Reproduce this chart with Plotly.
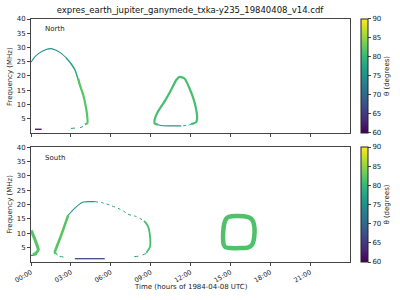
import plotly.graph_objects as go
from plotly.colors import sample_colorscale

# ---------------- data (hours of day, frequency MHz, theta degrees) ----------------
TITLE = "expres_earth_jupiter_ganymede_txka-y235_19840408_v14.cdf"
tick_hours = [0, 3, 6, 9, 12, 15, 18, 21]
tick_labels = ["00:00", "03:00", "06:00", "09:00", "12:00", "15:00", "18:00", "21:00"]
freq_ticks = [5, 10, 15, 20, 25, 30, 35, 40]
theta_ticks = [60, 65, 70, 75, 80, 85, 90]

# North hemisphere
n_arc_top_t = [0.0, 0.3, 0.7, 1.1, 1.45, 1.8, 2.2, 2.6]
n_arc_top_f = [24.8, 26.8, 28.3, 29.2, 29.6, 29.2, 28.2, 26.6]
n_arc_top_theta = 75
n_arc_mid_t = [2.6, 3.0, 3.3, 3.68]
n_arc_mid_f = [26.6, 24.4, 22.2, 16.8]
n_arc_mid_theta = 78
n_arc_low_t = [3.55, 3.68, 3.93, 4.1, 4.22, 4.24, 4.05]
n_arc_low_f = [19.1, 16.8, 13.3, 9.8, 6.3, 3.4, 3.0]
n_arc_low_theta = 82
n_arc_base_t = [3.0, 3.4, 3.8, 4.05]
n_arc_base_f = [1.6, 1.75, 2.0, 2.8]
n_arc_base_theta = 76
n_dark_t = [0.3, 0.8]
n_dark_f = [1.3, 1.3]
n_dark_theta = 61
n_loop_t = [9.55, 9.3, 9.3, 9.55, 10.05, 10.55, 10.93, 11.18, 11.55, 11.93, 12.25, 12.43, 12.5, 12.43, 12.05]
n_loop_f = [2.9, 3.4, 4.6, 7.5, 11.1, 15.2, 18.6, 19.7, 19.1, 15.6, 11.6, 8.1, 5.2, 3.8, 3.1]
n_loop_theta = 81
n_loop_base_t = [9.55, 9.9, 10.5, 11.3]
n_loop_base_f = [2.9, 2.55, 2.5, 2.5]
n_loop_base_theta = 76
n_loop_gap_t = [11.45, 11.8, 12.05]
n_loop_gap_f = [2.55, 2.7, 3.1]
n_loop_gap_theta = 77

# South hemisphere
s_wedge_t = [0.02, 0.3, 0.5, 0.55, 0.4, 0.15]
s_wedge_f = [11.0, 7.8, 5.2, 4.3, 3.2, 2.5]
s_wedge_theta = 82
s_wedge_base_t = [0.0, 0.15, 0.45]
s_wedge_base_f = [2.3, 2.3, 2.6]
s_wedge_base_theta = 77
s_left_t = [1.85, 1.8, 1.95, 2.18, 2.5, 2.8]
s_left_f = [2.8, 3.5, 5.5, 8.2, 12.3, 16.3]
s_left_theta = 82
s_top_t = [2.8, 3.2, 3.55, 3.93, 4.4, 4.8]
s_top_f = [16.3, 18.3, 19.8, 20.9, 21.0, 21.0]
s_top_theta = 76
s_desc_t = [4.8, 5.3, 5.68, 6.1, 6.55, 7.0, 7.3, 7.8, 8.18, 8.5, 8.68]
s_desc_f = [21.0, 20.7, 20.2, 19.5, 18.7, 17.6, 16.6, 16.0, 15.2, 14.3, 13.4]
s_desc_theta = 77
s_right_t = [8.5, 8.68, 8.85, 8.93, 8.98, 8.95, 8.68]
s_right_f = [14.3, 13.4, 11.8, 9.9, 7.0, 5.2, 3.2]
s_right_theta = 81
s_base_r_t = [8.68, 8.18, 7.43]
s_base_r_f = [3.0, 2.1, 1.7]
s_base_r_theta = 76
s_base_l_t = [1.8, 2.05, 2.68]
s_base_l_f = [3.5, 2.1, 1.6]
s_base_l_theta = 77
s_dark_t = [3.3, 5.55]
s_dark_f = [1.15, 1.15]
s_dark_theta = 67
s_ring_t = [14.7, 14.95, 15.4, 16.0, 16.45, 16.65, 16.78, 16.82, 16.75, 16.6, 16.3, 15.8, 15.0, 14.65, 14.5, 14.45, 14.47, 14.55, 14.7]
s_ring_f = [15.1, 15.8, 16.0, 15.9, 15.4, 14.6, 13.0, 10.5, 7.5, 5.8, 5.0, 4.85, 4.85, 5.1, 6.0, 8.0, 11.0, 13.5, 15.1]
s_ring_theta = 81.5

# ---------------- figure ----------------
def col(theta):
    return sample_colorscale("Viridis", [(theta - 60) / 30.0])[0]

fig = go.Figure()

def seg(t, f, theta, axis, width=1.3, dash="solid"):
    fig.add_trace(go.Scatter(x=t, y=f, mode="lines", xaxis="x" if axis == 1 else "x2",
                             yaxis="y" if axis == 1 else "y2",
                             line=dict(color=col(theta), width=width, dash=dash, shape="spline",
                                       smoothing=0.6),
                             showlegend=False, hoverinfo="skip"))

seg(n_arc_top_t, n_arc_top_f, n_arc_top_theta, 1, 1.1)
seg(n_arc_mid_t, n_arc_mid_f, n_arc_mid_theta, 1, 1.5)
seg(n_arc_low_t, n_arc_low_f, n_arc_low_theta, 1, 2.2)
seg(n_arc_base_t, n_arc_base_f, n_arc_base_theta, 1, 1.0, "4px,5px")
seg(n_dark_t, n_dark_f, n_dark_theta, 1, 1.3)
seg(n_loop_base_t, n_loop_base_f, n_loop_base_theta, 1, 1.1)
seg(n_loop_gap_t, n_loop_gap_f, n_loop_gap_theta, 1, 1.0, "3px,3px")
seg(n_loop_t, n_loop_f, n_loop_theta, 1, 2.2)

seg(s_wedge_base_t, s_wedge_base_f, s_wedge_base_theta, 2, 1.2)
seg(s_wedge_t, s_wedge_f, s_wedge_theta, 2, 3.0)
seg(s_base_l_t, s_base_l_f, s_base_l_theta, 2, 1.0, "4px,3px")
seg(s_left_t, s_left_f, s_left_theta, 2, 2.6)
seg(s_top_t, s_top_f, s_top_theta, 2, 1.1)
seg(s_desc_t, s_desc_f, s_desc_theta, 2, 1.0, "3px,3px")
seg(s_right_t, s_right_f, s_right_theta, 2, 1.8)
seg(s_base_r_t, s_base_r_f, s_base_r_theta, 2, 1.0, "4px,5px")
seg(s_dark_t, s_dark_f, s_dark_theta, 2, 1.3)
seg(s_ring_t, s_ring_f, s_ring_theta, 2, 4.5)

# colorbar carriers
for ax, ca in ((1, "coloraxis"), (2, "coloraxis2")):
    fig.add_trace(go.Scatter(x=[None, None], y=[None, None], mode="markers",
                             xaxis="x" if ax == 1 else "x2", yaxis="y" if ax == 1 else "y2",
                             marker=dict(color=[60, 90], coloraxis=ca, size=0.1),
                             showlegend=False, hoverinfo="skip"))

FONT = "DejaVu Sans"
axcol = "#444444"
xcommon = dict(range=[0, 24], tickvals=tick_hours, showline=True, mirror=True, linecolor=axcol,
               linewidth=1, ticks="outside", ticklen=3, tickcolor=axcol, showgrid=False,
               zeroline=False)
ycommon = dict(range=[0, 40], tickvals=freq_ticks, showline=True, mirror=True, linecolor=axcol,
               linewidth=1, ticks="outside", ticklen=3, tickcolor=axcol, showgrid=False,
               zeroline=False, tickfont=dict(size=7, family=FONT, color="#222"))

top_dom = [0.531, 1.0]
bot_dom = [0.0, 0.473]

def cbar(dom):
    return dict(x=1.0345, xanchor="left", thickness=7, len=dom[1] - dom[0],
                y=(dom[0] + dom[1]) / 2, yanchor="middle", lenmode="fraction",
                xpad=0, ypad=0,
                tickvals=theta_ticks, ticks="outside", ticklen=3,
                tickfont=dict(size=7, family=FONT, color="#222"),
                outlinewidth=1, outlinecolor="#222",
                title=dict(text="θ (degrees)", side="right", font=dict(size=7, family=FONT, color="#222")))

fig.update_layout(
    width=400, height=300,
    margin=dict(l=31, r=50, t=19, b=38, autoexpand=False),
    paper_bgcolor="white", plot_bgcolor="white",
    font=dict(family=FONT, size=7, color="#222"),
    title=dict(text=TITLE, x=0.475, xanchor="center", y=0.967, yanchor="middle",
               font=dict(size=8.5, family=FONT, color="#111")),
    xaxis=dict(xcommon, domain=[0, 1], anchor="y", showticklabels=False),
    yaxis=dict(ycommon, domain=top_dom, anchor="x"),
    xaxis2=dict(xcommon, domain=[0, 1], anchor="y2", ticktext=tick_labels, tickangle=-30,
                tickfont=dict(size=6.5, family=FONT, color="#222")),
    yaxis2=dict(ycommon, domain=bot_dom, anchor="x2"),
    coloraxis=dict(colorscale="Viridis", cmin=60, cmax=90, colorbar=cbar(top_dom)),
    coloraxis2=dict(colorscale="Viridis", cmin=60, cmax=90, colorbar=cbar(bot_dom)),
    annotations=[
        dict(text="North", x=0.9, y=36.4, xref="x", yref="y", xanchor="left", yanchor="middle",
             showarrow=False, font=dict(size=7, family=FONT, color="#222")),
        dict(text="South", x=0.9, y=36.3, xref="x2", yref="y2", xanchor="left", yanchor="middle",
             showarrow=False, font=dict(size=7, family=FONT, color="#222")),
        dict(text="Frequency (MHz)", x=-0.066, y=0.765, xref="paper", yref="paper", textangle=-90,
             showarrow=False, xanchor="center", yanchor="middle",
             font=dict(size=7, family=FONT, color="#222")),
        dict(text="Frequency (MHz)", x=-0.066, y=0.239, xref="paper", yref="paper", textangle=-90,
             showarrow=False, xanchor="center", yanchor="middle",
             font=dict(size=7, family=FONT, color="#222")),
        dict(text="Time (hours of 1984-04-08 UTC)", x=0.5, y=-0.103, xref="paper", yref="paper",
             showarrow=False, xanchor="center", yanchor="middle",
             font=dict(size=7, family=FONT, color="#222")),
    ],
)

fig.write_html("out.html")
